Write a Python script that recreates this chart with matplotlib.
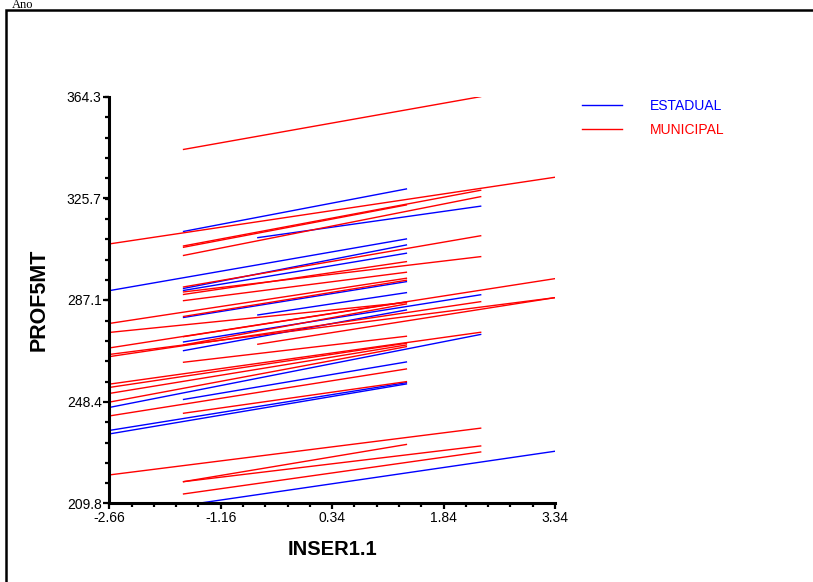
import numpy as np
import matplotlib
matplotlib.use('Agg')
import matplotlib.pyplot as plt
from matplotlib.lines import Line2D
from matplotlib.patches import Rectangle
from matplotlib.ticker import AutoMinorLocator

plt.rcParams['font.family'] = ['Liberation Sans Narrow', 'Liberation Sans', 'DejaVu Sans']

# segment ends per school (INSER1.1 -> PROF5MT)
estadual_x0 = [-2.66, -1.66, -0.66, -1.66, -1.66, -0.66, -1.66, -1.66, -1.66, -2.66, -1.66, -2.66, -2.66, -1.66]
estadual_y0 = [290.63, 313.12, 310.76, 291.47, 290.71, 281.40, 267.84, 271.15, 280.45, 246.27, 249.31, 237.54, 236.21, 209.05]
estadual_x1 = [1.34, 1.34, 2.34, 1.34, 1.34, 1.34, 1.34, 2.34, 1.34, 2.34, 1.34, 1.34, 1.34, 3.34]
estadual_y1 = [310.27, 329.26, 322.72, 307.99, 304.84, 289.87, 283.30, 289.07, 294.05, 274.00, 263.55, 255.69, 255.20, 229.64]

municipal_x0 = [-1.66, -2.66, -1.66, -1.66, -1.66, -1.66, -1.66, -1.66, -1.66, -2.66,
                -1.66, -1.66, -1.66, -2.66, -2.66, -2.66, -0.66, -1.66, -2.66, -2.66,
                -2.66, -2.66, -2.66, -2.66, -1.66, -2.66, -1.66, -1.66, -1.66]
municipal_y0 = [344.26, 308.37, 307.61, 307.11, 304.00, 292.04, 289.19, 290.14, 286.83, 278.17,
                280.83, 273.16, 270.01, 268.87, 266.40, 265.57, 270.28, 263.44, 274.76, 255.12,
                253.87, 251.59, 248.29, 243.04, 244.07, 220.64, 218.09, 218.09, 213.42]
municipal_x1 = [2.34, 3.34, 2.34, 1.34, 2.34, 2.34, 1.34, 2.34, 1.34, 1.34,
                1.34, 1.34, 1.34, 3.34, 3.34, 2.34, 3.34, 1.34, 1.34, 2.34,
                1.34, 1.34, 1.34, 1.34, 1.34, 2.34, 1.34, 2.34, 2.34]
municipal_y1 = [364.31, 333.70, 328.76, 323.18, 326.33, 311.48, 301.65, 303.55, 297.62, 295.34,
                294.58, 286.34, 285.58, 295.19, 287.97, 286.45, 287.97, 273.31, 286.15, 274.83,
                270.66, 270.01, 269.36, 260.89, 256.07, 238.41, 232.22, 231.65, 229.37]

x_ticks = [-2.66, -1.16, 0.34, 1.84, 3.34]
y_ticks = [209.8, 248.4, 287.1, 325.7, 364.3]

fig = plt.figure(figsize=(8.13, 5.82), dpi=100)
ax = fig.add_axes([0.1344, 0.1349, 0.5482, 0.699])

for x0, y0, x1, y1 in zip(estadual_x0, estadual_y0, estadual_x1, estadual_y1):
    ax.plot([x0, x1], [y0, y1], color='blue', lw=1.0)
for x0, y0, x1, y1 in zip(municipal_x0, municipal_y0, municipal_x1, municipal_y1):
    ax.plot([x0, x1], [y0, y1], color='red', lw=1.0)

ax.set_xlim(x_ticks[0], x_ticks[-1])
ax.set_ylim(y_ticks[0], y_ticks[-1])
ax.set_xticks(x_ticks)
ax.set_xticklabels([f'{v:.2f}' for v in x_ticks])
ax.set_yticks(y_ticks)
ax.set_yticklabels([f'{v:.1f}' for v in y_ticks])
ax.xaxis.set_minor_locator(AutoMinorLocator(5))
ax.yaxis.set_minor_locator(AutoMinorLocator(5))

for s in ['top', 'right']:
    ax.spines[s].set_visible(False)
for s in ['left', 'bottom']:
    ax.spines[s].set_linewidth(2.2)
ax.tick_params(which='major', direction='out', length=4, width=1.6, labelsize=10, pad=1.5)
ax.tick_params(which='minor', direction='out', length=3, width=1.6)

ax.set_xlabel('INSER1.1', fontsize=14.5, fontweight='bold', family='Liberation Sans', labelpad=11)
ax.set_ylabel('PROF5MT', fontsize=15.5, fontweight='bold', family='Liberation Sans', labelpad=12)

handles = [Line2D([], [], color='blue', lw=1.0), Line2D([], [], color='red', lw=1.0)]
ax.legend(handles, ['ESTADUAL', 'MUNICIPAL'], loc='upper left', bbox_to_anchor=(1.06, 0.995),
          frameon=False, labelcolor='linecolor', handlelength=2.9, handletextpad=2.0,
          borderaxespad=0, borderpad=0, labelspacing=0.75, fontsize=10)

# outer frame and the heading above it
fig.add_artist(Rectangle((6 / 813, -0.2), 2.0, 1.2 - 10 / 582, transform=fig.transFigure,
                         fill=False, lw=1.8, edgecolor='black'))
fig.text(12 / 813, 1 - 8.5 / 582, 'Ano', fontsize=9, family='Liberation Serif', va='baseline')

fig.savefig('out.png', dpi=100)
